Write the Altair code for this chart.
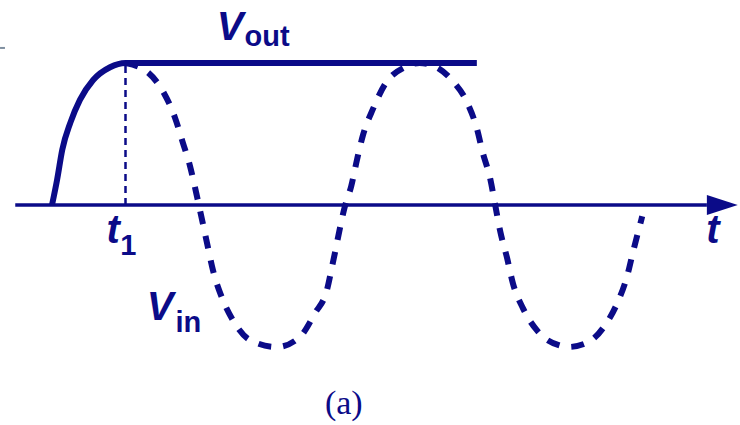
import altair as alt
import pandas as pd

# Time is measured in quarter periods of the input sine, voltage in units of its peak.
# Output of the peak detector: follows the input up to its first peak (t1), then holds.
vout_t = [0.00, 0.07, 0.14, 0.25, 0.38, 0.56, 0.79, 1.00, 5.78]
vout_v = [0.00, 0.18, 0.39, 0.58, 0.74, 0.88, 0.97, 1.00, 1.00]

# Input sine wave after t1 (drawn dashed).
vin_t = [1.00, 1.29, 1.51, 1.67, 1.78, 1.88, 1.96, 2.11, 2.19, 2.31, 2.46, 2.69,
         3.06, 3.37, 3.58, 3.74, 3.82, 3.99, 4.07, 4.15, 4.23, 4.37, 4.53, 4.80,
         5.00, 5.14, 5.44, 5.65, 5.78, 5.86, 5.96, 6.03, 6.10, 6.19, 6.27, 6.41,
         6.61, 6.91, 7.02, 7.28, 7.52, 7.70, 7.82, 7.91, 8.00, 8.03]
vin_v = [1.00, 0.94, 0.80, 0.62, 0.44, 0.27, 0.09, -0.27, -0.46, -0.65, -0.81, -0.95,
         -1.00, -0.93, -0.76, -0.60, -0.41, 0.00, 0.13, 0.32, 0.49, 0.68, 0.85, 0.97,
         1.00, 0.99, 0.88, 0.72, 0.54, 0.37, 0.19, 0.00, -0.19, -0.37, -0.55, -0.73,
         -0.89, -0.99, -1.00, -0.97, -0.85, -0.68, -0.51, -0.32, -0.14, -0.08]

# Time axis extent and arrow head
axis_t = [-0.50, 8.91]
arrow_t = [8.91, 9.33]
arrow_half = [0.07, 0.0]

t1 = 1.00

# Annotation texts: (text, t, v)
main_labels = [("V", 2.24, 1.16), ("t", 0.74, -0.268), ("t", 8.90, -0.268), ("V", 1.29, -0.81)]
sub_labels = [("out", 2.62, 1.12), ("1", 0.93, -0.352), ("in", 1.68, -0.894)]
caption = [("(a)", 3.97, -1.47)]

INK = "#0b0b88"
X_DOMAIN = [-0.7075, 9.3605]
Y_DOMAIN = [-1.5493, 1.4437]

xs = alt.Scale(domain=X_DOMAIN, nice=False, zero=False)
ys = alt.Scale(domain=Y_DOMAIN, nice=False, zero=False)


def X(field="t"):
    return alt.X(f"{field}:Q", scale=xs, axis=None)


def Y(field="v"):
    return alt.Y(f"{field}:Q", scale=ys, axis=None)


axis_df = pd.DataFrame({"t": axis_t, "v": [0.0, 0.0]})
arrow_df = pd.DataFrame({"t": arrow_t, "v": arrow_half, "v2": [-h for h in arrow_half]})
vout_df = pd.DataFrame({"t": vout_t, "v": vout_v})
vin_df = pd.DataFrame({"t": vin_t, "v": vin_v})
t1_df = pd.DataFrame({"t": [t1], "v": [0.0], "v2": [1.0]})
main_df = pd.DataFrame(main_labels, columns=["label", "t", "v"])
sub_df = pd.DataFrame(sub_labels, columns=["label", "t", "v"])
cap_df = pd.DataFrame(caption, columns=["label", "t", "v"])
tick_df = pd.DataFrame({"t": [-0.707], "t2": [-0.64], "v": [1.106]})

axis_line = alt.Chart(axis_df).mark_line(color=INK, strokeWidth=3.5).encode(x=X(), y=Y())

arrow = alt.Chart(arrow_df).mark_area(color=INK, opacity=1).encode(
    x=X(), y=Y(), y2=alt.Y2("v2:Q")
)

vin_line = alt.Chart(vin_df).mark_line(
    color=INK, strokeWidth=6, strokeDash=[13, 12], interpolate="monotone"
).encode(x=X(), y=Y(), order="t:Q")

vout_line = alt.Chart(vout_df).mark_line(
    color=INK, strokeWidth=6, interpolate="monotone", strokeJoin="round"
).encode(x=X(), y=Y(), order="t:Q")

t1_rule = alt.Chart(t1_df).mark_rule(
    color=INK, strokeWidth=2.5, strokeDash=[7, 5]
).encode(x=X(), y=Y(), y2=alt.Y2("v2:Q"))

tick = alt.Chart(tick_df).mark_rule(color="#7f8fa0", strokeWidth=2).encode(
    x=X(), x2=alt.X2("t2:Q"), y=Y()
)

main_text = alt.Chart(main_df).mark_text(
    color=INK, font="Liberation Sans", fontSize=40, fontWeight="bold",
    fontStyle="italic", align="left", baseline="alphabetic"
).encode(x=X(), y=Y(), text="label:N")

sub_text = alt.Chart(sub_df).mark_text(
    color=INK, font="Liberation Sans", fontSize=29, fontWeight="bold",
    align="left", baseline="alphabetic"
).encode(x=X(), y=Y(), text="label:N")

cap_text = alt.Chart(cap_df).mark_text(
    color=INK, font="Liberation Serif", fontSize=34,
    align="center", baseline="alphabetic"
).encode(x=X(), y=Y(), text="label:N")

chart = alt.layer(
    axis_line, arrow, t1_rule, vin_line, vout_line, tick, main_text, sub_text, cap_text
).properties(
    width=740, height=425, padding=0, autosize="none", background="white"
).configure_view(stroke=None)

chart.save("out.html", embed_options={"renderer": "svg", "actions": False})
